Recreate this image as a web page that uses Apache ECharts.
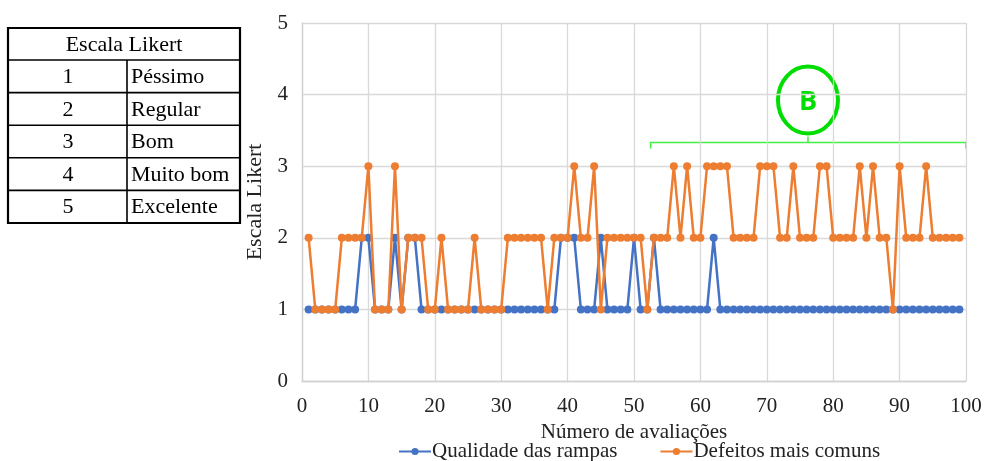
<!DOCTYPE html>
<html>
<head>
<meta charset="utf-8">
<script src="https://cdn.jsdelivr.net/npm/echarts@6/dist/echarts.min.js"></script>
<style>
html,body{margin:0;padding:0;background:#fff;}
#chart{width:985px;height:461px;}
</style>
</head>
<body>
<div id="chart"></div>
<script>
// Evaluation numbers 1..99
const evaluations = [1,2,3,4,5,6,7,8,9,10,11,12,13,14,15,16,17,18,19,20,21,22,23,24,25,26,27,28,29,30,31,32,33,34,35,36,37,38,39,40,41,42,43,44,45,46,47,48,49,50,51,52,53,54,55,56,57,58,59,60,61,62,63,64,65,66,67,68,69,70,71,72,73,74,75,76,77,78,79,80,81,82,83,84,85,86,87,88,89,90,91,92,93,94,95,96,97,98,99];
// Qualidade das rampas
const qualidade = [1,1,1,1,1,1,1,1,2,2, 1,1,1,2,1,2,2,1,1,1, 1,1,1,1,1,1,1,1,1,1, 1,1,1,1,1,1,1,1,2,2, 2,1,1,1,2,1,1,1,1,2, 1,1,2,1,1,1,1,1,1,1, 1,2,1,1,1,1,1,1,1,1, 1,1,1,1,1,1,1,1,1,1, 1,1,1,1,1,1,1,1,1,1, 1,1,1,1,1,1,1,1,1];
// Defeitos mais comuns
const defeitos = [2,1,1,1,1,2,2,2,2,3, 1,1,1,3,1,2,2,2,1,1, 2,1,1,1,1,2,1,1,1,1, 2,2,2,2,2,2,1,2,2,2, 3,2,2,3,1,2,2,2,2,2, 2,1,2,2,2,3,2,3,2,2, 3,3,3,3,2,2,2,2,3,3, 3,2,2,3,2,2,2,3,3,2, 2,2,2,3,2,3,2,2,1,3, 2,2,2,3,2,2,2,2,2];
const seriesNames = ['Qualidade das rampas', 'Defeitos mais comuns'];
const likertValues = ['1','2','3','4','5'];
const likertLabels = ['Péssimo','Regular','Bom','Muito bom','Excelente'];
const xTicks = {min:0, max:100, interval:10};
const yTicks = {min:0, max:5, interval:1};

const FONT = '"Liberation Serif", "Times New Roman", serif';
const chart = echarts.init(document.getElementById('chart'), null, {renderer:'canvas'});

function pairs(vals){ return evaluations.map((x,i)=>[x, vals[i]]); }

// Table graphic
const tbl = {left:8, right:240, top:28, titleBottom:60, rowH:32.6, colX:127};
const tableEls = [];
tableEls.push({type:'rect', shape:{x:tbl.left, y:tbl.top, width:tbl.right-tbl.left, height:tbl.titleBottom - tbl.top + tbl.rowH*5}, style:{fill:'#fff', stroke:'#000', lineWidth:2.2}});
tableEls.push({type:'text', x:(tbl.left+tbl.right)/2, y:(tbl.top+tbl.titleBottom)/2+1, style:{text:'Escala Likert', font:'22px '+FONT, fill:'#000', align:'center', verticalAlign:'middle'}});
for(let i=0;i<5;i++){
  const y0 = tbl.titleBottom + tbl.rowH*i;
  tableEls.push({type:'line', shape:{x1:tbl.left, y1:y0, x2:tbl.right, y2:y0}, style:{stroke:'#000', lineWidth:1.6}});
  tableEls.push({type:'text', x:68, y:y0+tbl.rowH/2+1, style:{text:likertValues[i], font:'22px '+FONT, fill:'#000', align:'center', verticalAlign:'middle'}});
  tableEls.push({type:'text', x:131, y:y0+tbl.rowH/2+1, style:{text:likertLabels[i], font:'22px '+FONT, fill:'#000', align:'left', verticalAlign:'middle'}});
}
tableEls.push({type:'line', shape:{x1:tbl.colX, y1:tbl.titleBottom, x2:tbl.colX, y2:tbl.titleBottom+tbl.rowH*5}, style:{stroke:'#000', lineWidth:1.6}});

const option = {
  backgroundColor:'#fff',
  animation:false,
  grid:{left:302, right:19, top:23, bottom:80, containLabel:false},
  xAxis:{
    type:'value', min:xTicks.min, max:xTicks.max, interval:xTicks.interval,
    name:'Número de avaliações', nameLocation:'middle', nameGap:35,
    nameTextStyle:{fontFamily:FONT, fontSize:21, color:'#222'},
    axisLine:{show:true, lineStyle:{color:'#d0d0d0', width:1.3}},
    axisTick:{show:false},
    axisLabel:{fontFamily:FONT, fontSize:21, color:'#222', margin:15},
    splitLine:{show:true, lineStyle:{color:'#d9d9d9', width:1.3}}
  },
  yAxis:{
    type:'value', min:yTicks.min, max:yTicks.max, interval:yTicks.interval,
    name:'Escala Likert', nameLocation:'middle', nameGap:30, nameRotate:90,
    nameTextStyle:{fontFamily:FONT, fontSize:22, color:'#222'},
    axisLine:{show:true, lineStyle:{color:'#d0d0d0', width:1.3}},
    axisTick:{show:false},
    axisLabel:{fontFamily:FONT, fontSize:21, color:'#222', margin:14},
    splitLine:{show:true, lineStyle:{color:'#d9d9d9', width:1.3}}
  },
  legend:{
    top:436, left:393, itemGap:42, itemWidth:32, itemHeight:9,
    textStyle:{fontFamily:FONT, fontSize:21, color:'#222', padding:[0,0,0,-4]},
    data:seriesNames
  },
  series:[
    {name:seriesNames[0], type:'line', data:pairs(qualidade), color:'#4472C4',
     symbol:'circle', symbolSize:8, lineStyle:{width:2.5, color:'#4472C4'}, itemStyle:{color:'#4472C4'}, z:2},
    {name:seriesNames[1], type:'line', data:pairs(defeitos), color:'#ED7D31',
     symbol:'circle', symbolSize:8, lineStyle:{width:2.5, color:'#ED7D31'}, itemStyle:{color:'#ED7D31'}, z:3}
  ],
  graphic: tableEls
};
chart.setOption(option);

// Annotation "B" with bracket, positioned through the axis scales
const pL = chart.convertToPixel({gridIndex:0}, [52.5, 3.33]);
const pR = chart.convertToPixel({gridIndex:0}, [100, 3.33]);
const midX = chart.convertToPixel({gridIndex:0}, [76.2, 0])[0];
const green = '#00dd00';
const annot = [
  {type:'polyline', shape:{points:[[pL[0], pL[1]+6],[pL[0], pL[1]],[pR[0], pR[1]],[pR[0], pR[1]+6]]}, style:{stroke:'#44ee44', lineWidth:1.6, fill:null}},
  {type:'line', shape:{x1:midX, y1:pL[1], x2:midX, y2:pL[1]-6}, style:{stroke:'#44ee44', lineWidth:1.6}},
  {type:'ellipse', shape:{cx:midX, cy:pL[1]-42.5, rx:30, ry:33.5}, style:{stroke:green, lineWidth:4, fill:null}},
  {type:'text', x:midX, y:pL[1]-40.5, style:{text:'B', font:'bold 27px "Open Sans", "DejaVu Sans", sans-serif', fill:green, align:'center', verticalAlign:'middle'}}
];
chart.setOption({graphic: tableEls.concat(annot)});
</script>
</body>
</html>
